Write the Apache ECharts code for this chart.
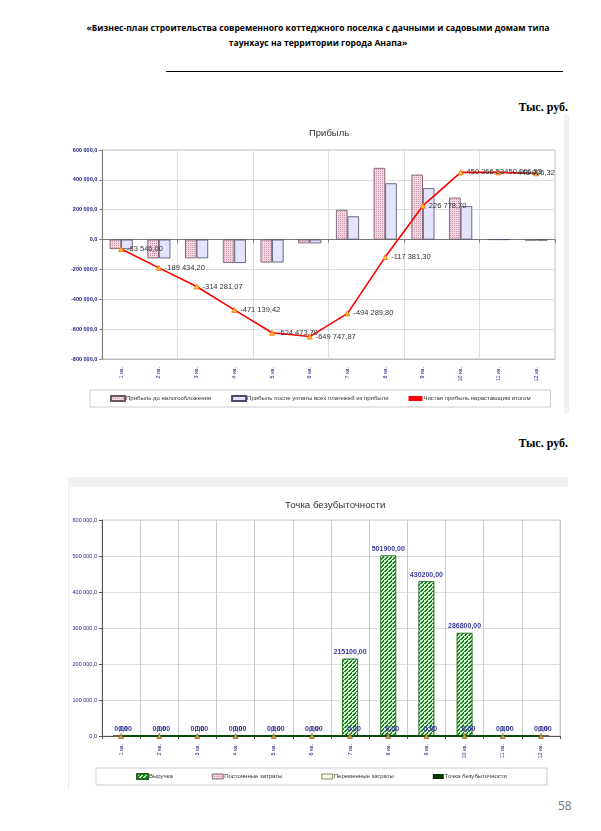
<!DOCTYPE html>
<html><head><meta charset="utf-8">
<script src="https://cdn.jsdelivr.net/npm/echarts@6/dist/echarts.min.js"></script>
<style>
html,body{margin:0;padding:0;background:#fff;width:601px;height:831px;overflow:hidden;position:relative;font-family:"Open Sans",sans-serif;}
.hdr{position:absolute;left:0;width:636px;text-align:center;font-weight:bold;font-size:8.6px;color:#000;white-space:nowrap;}
.unit{position:absolute;right:33px;font-family:"Liberation Serif",serif;font-weight:bold;font-size:12px;color:#000;}
#c1{position:absolute;left:68px;top:113px;width:500px;height:300px;}
#c2{position:absolute;left:68px;top:476px;width:500px;height:316px;}
</style></head><body>
<div class="hdr" style="top:22px">«Бизнес-план строительства современного коттеджного поселка с дачными и садовыми домам типа</div>
<div class="hdr" style="top:37px">таунхаус на территории города Анапа»</div>
<div style="position:absolute;left:166px;top:71px;width:397px;height:1px;background:#000"></div>
<div class="unit" style="top:100px">Тыс. руб.</div>
<div style="position:absolute;left:564px;top:115px;width:5px;height:298px;background:#f0f0f0"></div>
<div class="unit" style="top:436px">Тыс. руб.</div>
<div style="position:absolute;left:68px;top:477px;width:500px;height:10px;background:#f2f2f2"></div>
<div style="position:absolute;left:68px;top:487px;width:1px;height:303px;background:#ececec"></div>
<div style="position:absolute;left:558px;top:797px;font-size:12px;color:#777;font-family:'Open Sans',sans-serif">58</div>
<div id="c1"></div>
<div id="c2"></div>
<script>
const categories = ['1 кв.','2 кв.','3 кв.','4 кв.','5 кв.','6 кв.','7 кв.','8 кв.','9 кв.','10 кв.','11 кв.','12 кв.'];
const profitBeforeTax = [-63546, -125888, -124847, -156858, -153334, -25274, 199000, 480000, 435000, 281000, 0, -6340];
const profitAfterTax = [-63546, -125888, -124847, -156858, -153334, -25274, 155458, 376909, 344160, 223488, 0, -6340];
const cumulativeNet = [-63546.00, -189434.20, -314281.07, -471139.42, -624473.79, -649747.87, -494289.80, -117381.30, 226778.70, 450266.53, 450266.53, 443926.32];

const revenue = [0,0,0,0,0,0,215100,501900,430200,286800,0,0];
const fixedCosts = [0,0,0,0,0,0,0,0,0,0,0,0];
const variableCosts = [0,0,0,0,0,0,0,0,0,0,0,0];
const breakEven = [0,0,0,0,0,0,0,0,0,0,0,0];

function fmtNum(v, dec){
  const neg = v < 0; v = Math.abs(v);
  let s = v.toFixed(dec);
  let [i, d] = s.split('.');
  i = i.replace(/\B(?=(\d{3})+(?!\d))/g, ' ');
  return (neg ? '-' : '') + i + (d !== undefined ? ',' + d : '');
}
function makePattern(bg, fg, kind){
  const c = document.createElement('canvas');
  const n = kind === 'diag' ? 4 : 2;
  c.width = n; c.height = n;
  const g = c.getContext('2d');
  g.fillStyle = bg; g.fillRect(0,0,n,n);
  g.fillStyle = fg;
  if (kind === 'diag') {
    for (let k = 0; k < n; k++) { g.fillRect((n-1-k), k, 2, 1); }
    g.fillRect(0, n-1, 1, 1);
  } else {
    g.fillRect(0,0,1,1);
  }
  return {image: c, repeat: 'repeat'};
}
const pinkPat = makePattern('#f2d6e2', '#cc98b0', 'hatch');
const greenPat = makePattern('#c8f5c8', '#2a7a2a', 'diag');
const axisLbl = {color:'#1a1a7a', fontSize:5.5, fontFamily:'Liberation Sans, Arial'};

const lineData = cumulativeNet.map((v, i) => i === cumulativeNet.length - 1 ? {value: v, label: {position: 'inside'}} : v);

const c1 = echarts.init(document.getElementById('c1'), null, {renderer:'canvas'});
c1.setOption({
  animation:false,
  title:{text:'Прибыль', left:236, top:10, textStyle:{fontSize:9.5, fontWeight:'normal', color:'#333', fontFamily:'Liberation Sans, Arial'}},
  legend:{
    left:22, top:277, padding:[5,20], itemGap:20, itemWidth:14, itemHeight:5,
    borderColor:'#ccc', borderWidth:1, borderRadius:0,
    textStyle:{fontSize:6, color:'#333', fontFamily:'Liberation Sans, Arial', padding:[0,0,0,-4]},
    data:[
      {name:'Прибыль до налогообложения', icon:'rect'},
      {name:'Прибыль после уплаты всех платежей из прибыли', icon:'rect'},
      {name:'Чистая прибыль нарастающим итогом', icon:'rect', itemStyle:{color:'#ff0000', borderWidth:0}}
    ]
  },
  grid:{left:34, right:13, top:37, bottom:54, show:true, borderColor:'#bbb', borderWidth:1},
  xAxis:[
    {type:'category', data:categories, axisLine:{onZero:true, lineStyle:{color:'#777'}}, axisTick:{show:true, lineStyle:{color:'#777'}, length:3},
     axisLabel:{show:false}, splitLine:{show:true, lineStyle:{color:'#ddd'}}},
    {type:'category', data:categories, position:'bottom', axisLine:{onZero:false, lineStyle:{color:'#bbb'}}, axisTick:{show:false},
     axisLabel:Object.assign({rotate:90, margin:8}, axisLbl), splitLine:{show:false}}
  ],
  yAxis:{type:'value', min:-800000, max:600000, interval:200000,
    axisLine:{show:true, lineStyle:{color:'#777'}}, axisTick:{show:true, length:3, lineStyle:{color:'#777'}},
    axisLabel:Object.assign({formatter:v=>fmtNum(v,1), margin:5}, axisLbl, {fontWeight:'bold'}),
    splitLine:{show:true, lineStyle:{color:'#ddd'}}},
  series:[
    {name:'Прибыль до налогообложения', type:'bar', data:profitBeforeTax, barWidth:11.5, barGap:'0%',
     itemStyle:{color:pinkPat, borderColor:'#6a5560', borderWidth:0.8}},
    {name:'Прибыль после уплаты всех платежей из прибыли', type:'bar', data:profitAfterTax, barWidth:11.5, barGap:'0%',
     itemStyle:{color:'#e4e4fc', borderColor:'#4a4a66', borderWidth:0.8}},
    {name:'Чистая прибыль нарастающим итогом', type:'line', data:lineData, z:5,
     lineStyle:{color:'#ff0000', width:1.6}, itemStyle:{color:'#ffcc33', borderColor:'#ff6600', borderWidth:0.8},
     symbol:'triangle', symbolSize:5,
     label:{show:true, position:'right', distance:3, formatter:p=>fmtNum(p.value,2), fontSize:7.5, color:'#333', fontFamily:'Liberation Sans, Arial'}}
  ]
});

const c2 = echarts.init(document.getElementById('c2'), null, {renderer:'canvas'});
const zeroLbl = {show:true, position:'top', distance:3, formatter:p=>fmtNum(p.value,2).replace(/ /g,''), fontSize:7, fontWeight:'bold', color:'#3b3b9a', fontFamily:'Liberation Sans, Arial'};
c2.setOption({
  animation:false,
  title:{text:'Точка безубыточности', left:212, top:19, textStyle:{fontSize:9.7, fontWeight:'normal', color:'#333', fontFamily:'Liberation Sans, Arial'}},
  legend:{
    left:28, top:292, padding:[5,40], itemGap:39, itemWidth:11, itemHeight:5,
    borderColor:'#ccc', borderWidth:1, borderRadius:0,
    textStyle:{fontSize:6, color:'#333', fontFamily:'Liberation Sans, Arial', padding:[0,0,0,-4]},
    data:[
      {name:'Выручка', icon:'rect'},
      {name:'Постоянные затраты', icon:'rect', itemStyle:{color:pinkPat, borderColor:'#6a5560', borderWidth:0.8}},
      {name:'Переменные затраты', icon:'rect', itemStyle:{color:'#f8f8e8', borderColor:'#6b6b3a', borderWidth:0.8}},
      {name:'Точка безубыточности', icon:'rect', itemStyle:{color:'#003300', borderWidth:0}}
    ]
  },
  grid:{left:34, right:8, top:44, bottom:56, show:true, borderColor:'#ccc', borderWidth:1},
  xAxis:{type:'category', data:categories, axisLine:{lineStyle:{color:'#555'}}, axisTick:{show:true, length:3, lineStyle:{color:'#555'}},
    axisLabel:Object.assign({rotate:90, margin:8}, axisLbl), splitLine:{show:true, lineStyle:{color:'#ccc'}}},
  yAxis:{type:'value', min:0, max:600000, interval:100000,
    axisLine:{show:true, lineStyle:{color:'#555'}}, axisTick:{show:true, length:3, lineStyle:{color:'#555'}},
    axisLabel:Object.assign({formatter:v=>fmtNum(v,1), margin:5}, axisLbl),
    splitLine:{show:true, lineStyle:{color:'#ddd'}}},
  series:[
    {name:'Выручка', type:'bar', data:revenue, barWidth:16, stack:'s',
     itemStyle:{color:greenPat, borderColor:'#1f6b1f', borderWidth:0.9}, label:zeroLbl},
    {name:'Постоянные затраты', type:'bar', data:fixedCosts, barWidth:16, stack:'s2', barGap:'-100%',
     itemStyle:{color:pinkPat, borderColor:'#6a5560', borderWidth:0.8},
     label:Object.assign({}, zeroLbl, {offset:[4,0]})},
    {name:'Переменные затраты', type:'bar', data:variableCosts, barWidth:16, stack:'s3', barGap:'-100%',
     itemStyle:{color:'#f8f8e8', borderColor:'#6b6b3a', borderWidth:0.8}},
    {name:'Точка безубыточности', type:'line', data:breakEven, z:5,
     lineStyle:{color:'#0a4a0a', width:1.8}, symbol:'triangle', symbolSize:5,
     itemStyle:{color:'#c8a040', borderColor:'#7a5a20', borderWidth:0.6}}
  ]
});
</script>
</body></html>
